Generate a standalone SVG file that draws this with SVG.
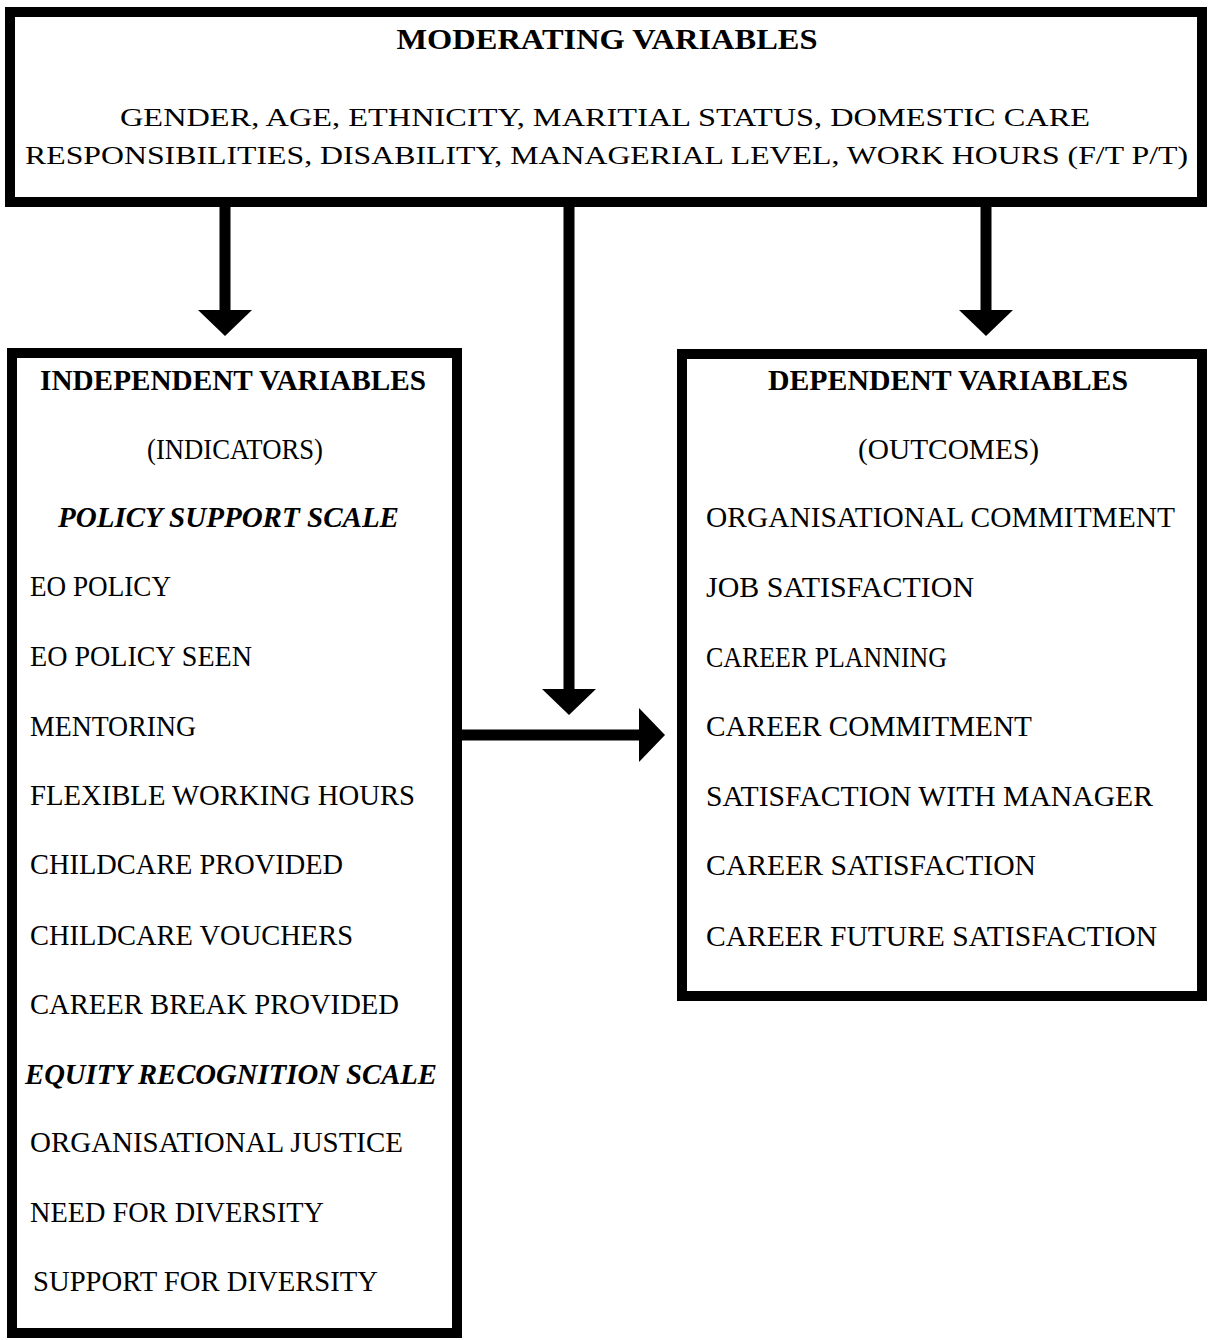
<svg xmlns="http://www.w3.org/2000/svg" width="1209" height="1340" viewBox="0 0 1209 1340">
  <style>
    .box { fill: #ffffff; stroke: #000000; stroke-width: 10; }
    .t { font-family: "Liberation Serif", "Times New Roman", serif; fill: #000000; }
    .head { font-weight: bold; font-size: 30px; text-anchor: middle; }
    .mod { font-size: 26px; }
    .item { font-size: 29px; }
    .scale { font-weight: bold; font-style: italic; font-size: 29px; }
    .conn { stroke: #000000; stroke-width: 11; fill: none; marker-end: url(#arrow); }
  </style>
  <defs>
    <marker id="arrow" viewBox="0 0 26 54" refX="0" refY="27" markerWidth="26" markerHeight="54" markerUnits="userSpaceOnUse" orient="auto">
      <path d="M0,0 L26,27 L0,54 Z" fill="#000000"/>
    </marker>
  </defs>
  <rect width="1209" height="1340" fill="#ffffff"/>

  <!-- moderating variables -->
  <g id="moderating">
    <rect class="box" x="10" y="12" width="1192" height="190"/>
    <text class="t head" x="607" y="49" textLength="421" lengthAdjust="spacingAndGlyphs">MODERATING VARIABLES</text>
    <text class="t mod" x="120" y="126" textLength="970" lengthAdjust="spacingAndGlyphs">GENDER, AGE, ETHNICITY, MARITIAL STATUS, DOMESTIC CARE</text>
    <text class="t mod" x="25" y="164" textLength="1163" lengthAdjust="spacingAndGlyphs">RESPONSIBILITIES, DISABILITY, MANAGERIAL LEVEL, WORK HOURS (F/T P/T)</text>
  </g>

  <!-- independent variables -->
  <g id="independent">
    <rect class="box" x="12" y="353" width="445" height="980"/>
    <text class="t head" x="233" y="390" textLength="386" lengthAdjust="spacingAndGlyphs">INDEPENDENT VARIABLES</text>
    <text class="t item" x="147" y="459" textLength="176" lengthAdjust="spacingAndGlyphs">(INDICATORS)</text>
    <text class="t scale" x="58" y="527" textLength="341" lengthAdjust="spacingAndGlyphs">POLICY SUPPORT SCALE</text>
    <text class="t item" x="30" y="596" textLength="141" lengthAdjust="spacingAndGlyphs">EO POLICY</text>
    <text class="t item" x="30" y="666" textLength="222" lengthAdjust="spacingAndGlyphs">EO POLICY SEEN</text>
    <text class="t item" x="30" y="736" textLength="166" lengthAdjust="spacingAndGlyphs">MENTORING</text>
    <text class="t item" x="30" y="805" textLength="385" lengthAdjust="spacingAndGlyphs">FLEXIBLE WORKING HOURS</text>
    <text class="t item" x="30" y="874" textLength="313" lengthAdjust="spacingAndGlyphs">CHILDCARE PROVIDED</text>
    <text class="t item" x="30" y="945" textLength="323" lengthAdjust="spacingAndGlyphs">CHILDCARE VOUCHERS</text>
    <text class="t item" x="30" y="1014" textLength="369" lengthAdjust="spacingAndGlyphs">CAREER BREAK PROVIDED</text>
    <text class="t scale" x="25" y="1084" textLength="412" lengthAdjust="spacingAndGlyphs">EQUITY RECOGNITION SCALE</text>
    <text class="t item" x="30" y="1152" textLength="373" lengthAdjust="spacingAndGlyphs">ORGANISATIONAL JUSTICE</text>
    <text class="t item" x="30" y="1222" textLength="294" lengthAdjust="spacingAndGlyphs">NEED FOR DIVERSITY</text>
    <text class="t item" x="33" y="1291" textLength="345" lengthAdjust="spacingAndGlyphs">SUPPORT FOR DIVERSITY</text>
  </g>

  <!-- dependent variables -->
  <g id="dependent">
    <rect class="box" x="682" y="354" width="520" height="642"/>
    <text class="t head" x="948" y="390" textLength="360" lengthAdjust="spacingAndGlyphs">DEPENDENT VARIABLES</text>
    <text class="t item" x="858" y="459" textLength="181" lengthAdjust="spacingAndGlyphs">(OUTCOMES)</text>
    <text class="t item" x="706" y="527" textLength="469" lengthAdjust="spacingAndGlyphs">ORGANISATIONAL COMMITMENT</text>
    <text class="t item" x="706" y="597" textLength="268" lengthAdjust="spacingAndGlyphs">JOB SATISFACTION</text>
    <text class="t item" x="706" y="667" textLength="241" lengthAdjust="spacingAndGlyphs">CAREER PLANNING</text>
    <text class="t item" x="706" y="736" textLength="326" lengthAdjust="spacingAndGlyphs">CAREER COMMITMENT</text>
    <text class="t item" x="706" y="806" textLength="447" lengthAdjust="spacingAndGlyphs">SATISFACTION WITH MANAGER</text>
    <text class="t item" x="706" y="875" textLength="330" lengthAdjust="spacingAndGlyphs">CAREER SATISFACTION</text>
    <text class="t item" x="706" y="946" textLength="451" lengthAdjust="spacingAndGlyphs">CAREER FUTURE SATISFACTION</text>
  </g>

  <!-- connectors -->
  <g id="connectors">
    <line class="conn" x1="225" y1="207" x2="225" y2="310"/>
    <line class="conn" x1="986" y1="207" x2="986" y2="310"/>
    <line class="conn" x1="569" y1="207" x2="569" y2="689"/>
    <line class="conn" x1="462" y1="735" x2="639" y2="735"/>
  </g>
</svg>
